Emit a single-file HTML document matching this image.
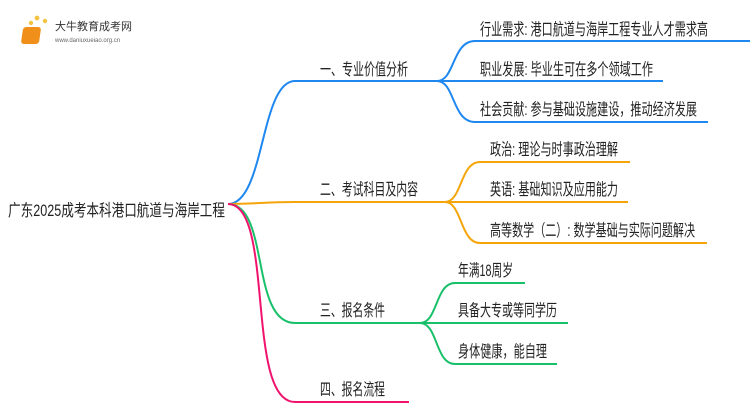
<!DOCTYPE html>
<html><head><meta charset="utf-8"><style>
body{margin:0;background:#fff;width:750px;height:410px;overflow:hidden}
svg text{font-family:"Liberation Sans","Noto Sans CJK SC",sans-serif;font-size:16.5px;fill:#222}
</style></head><body>
<svg width="750" height="410" viewBox="0 0 750 410" xmlns="http://www.w3.org/2000/svg">
<g>
<circle cx="28" cy="30" r="2" fill="#f5c342"/><circle cx="31" cy="23" r="2.2" fill="#f5c342"/><circle cx="37" cy="18" r="2.4" fill="#f5c342"/><circle cx="45" cy="21" r="2.2" fill="#f5c342"/>
<rect x="27" y="27" width="18" height="17" rx="3" fill="#f0901a" transform="skewX(-8)"/>
<text x="55" y="30" style="font-size:11px;fill:#333">大牛教育成考网</text>
<text x="55" y="42" style="font-size:6px;fill:#666">www.daniuxueiao.org.cn</text>
</g>
<g fill="none" stroke-width="2">
<path d="M228 204 C265 204,260 81,295 81 L437 81" stroke="#1e88f0"/>
<path d="M437 81 C455 81,452 41,475 41 L750 41" stroke="#1e88f0"/>
<path d="M437 81 L663 81" stroke="#1e88f0"/>
<path d="M437 81 C455 81,452 122,475 122 L708 122" stroke="#1e88f0"/>
<path d="M228 204 C260 204,260 202,295 202 L445 202" stroke="#f5a50a"/>
<path d="M445 202 C462 202,460 162,480 162 L630 162" stroke="#f5a50a"/>
<path d="M445 202 L628 202" stroke="#f5a50a"/>
<path d="M445 202 C462 202,460 243,480 243 L707 243" stroke="#f5a50a"/>
<path d="M228 204 C270 204,250 323,295 323 L420 323" stroke="#19c06a"/>
<path d="M420 323 C438 323,435 283,455 283 L525 283" stroke="#19c06a"/>
<path d="M420 323 L568 323" stroke="#19c06a"/>
<path d="M420 323 C438 323,435 364,455 364 L557 364" stroke="#19c06a"/>
<path d="M228 204 C275 204,245 402,295 402 L409 402" stroke="#f0136e"/>
</g>
<g>
<text x="8" y="216" textLength="217" lengthAdjust="spacingAndGlyphs">广东2025成考本科港口航道与海岸工程</text>
<text x="320" y="75" textLength="88" lengthAdjust="spacingAndGlyphs">一、专业价值分析</text>
<text x="320" y="195" textLength="98" lengthAdjust="spacingAndGlyphs">二、考试科目及内容</text>
<text x="320" y="316" textLength="65" lengthAdjust="spacingAndGlyphs">三、报名条件</text>
<text x="320" y="395" textLength="65" lengthAdjust="spacingAndGlyphs">四、报名流程</text>
<text x="480" y="35" textLength="228" lengthAdjust="spacingAndGlyphs">行业需求: 港口航道与海岸工程专业人才需求高</text>
<text x="480" y="75" textLength="173" lengthAdjust="spacingAndGlyphs">职业发展: 毕业生可在多个领域工作</text>
<text x="480" y="115" textLength="217" lengthAdjust="spacingAndGlyphs">社会贡献: 参与基础设施建设，推动经济发展</text>
<text x="490" y="155" textLength="128" lengthAdjust="spacingAndGlyphs">政治: 理论与时事政治理解</text>
<text x="490" y="195" textLength="128" lengthAdjust="spacingAndGlyphs">英语: 基础知识及应用能力</text>
<text x="490" y="236" textLength="205" lengthAdjust="spacingAndGlyphs">高等数学（二）: 数学基础与实际问题解决</text>
<text x="458" y="276" textLength="55" lengthAdjust="spacingAndGlyphs">年满18周岁</text>
<text x="458" y="316" textLength="99" lengthAdjust="spacingAndGlyphs">具备大专或等同学历</text>
<text x="458" y="357" textLength="89" lengthAdjust="spacingAndGlyphs">身体健康，能自理</text>
</g>
</svg>
</body></html>
